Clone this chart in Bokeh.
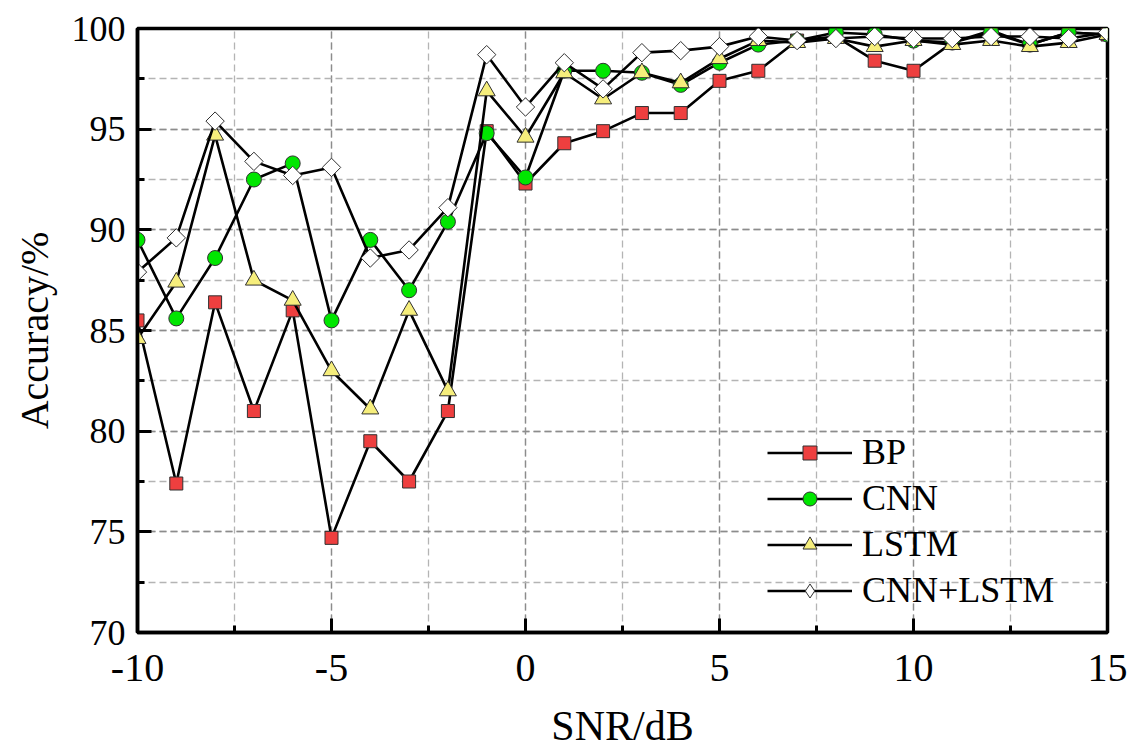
import numpy as np
from bokeh.plotting import figure
from bokeh.models import SingleIntervalTicker, Legend, LegendItem, CustomJSTickFormatter
from bokeh.embed import file_html
from bokeh.resources import INLINE

snr = list(range(-10, 16))
bp = [85.5, 77.4, 86.4, 81.0, 86.0, 74.7, 79.5, 77.5, 81.0, 94.9, 92.3, 94.3, 94.9,
      95.8, 95.8, 97.4, 97.9, 99.4, 99.6, 98.4, 97.9, 99.3, 99.9, 99.2, 99.8, 99.7]
cnn = [89.5, 85.6, 88.6, 92.5, 93.3, 85.5, 89.5, 87.0, 90.4, 94.8, 92.6, 97.9, 97.9,
       97.8, 97.2, 98.3, 99.2, 99.4, 99.8, 99.7, 99.4, 99.3, 99.8, 99.2, 99.8, 99.7]
lstm = [84.6, 87.4, 94.7, 87.5, 86.5, 83.0, 81.1, 86.0, 82.0, 96.9, 94.6, 97.8, 96.5,
        97.8, 97.3, 98.5, 99.4, 99.3, 99.5, 99.1, 99.4, 99.2, 99.4, 99.1, 99.3, 99.7]
cnn_lstm = [87.9, 89.6, 95.4, 93.4, 92.7, 93.1, 88.6, 89.0, 91.1, 98.7, 96.1, 98.3, 97.0,
            98.8, 98.9, 99.1, 99.6, 99.4, 99.5, 99.6, 99.5, 99.5, 99.6, 99.6, 99.5, 99.8]
names = ["BP", "CNN", "LSTM", "CNN+LSTM"]

FONT = "Liberation Serif"

p = figure(width=1128, height=751, x_range=(-10, 15), y_range=(70, 100),
           output_backend="svg", toolbar_location=None,
           min_border_left=137, min_border_right=21, min_border_top=28, min_border_bottom=118)
p.background_fill_color = "white"
p.border_fill_color = "white"
p.outline_line_color = "black"
p.outline_line_width = 3.5

p.xaxis.ticker = SingleIntervalTicker(interval=5, num_minor_ticks=2)
p.yaxis.ticker = SingleIntervalTicker(interval=5, num_minor_ticks=2)
p.xaxis.formatter = CustomJSTickFormatter(code="return tick.toString();")
p.yaxis.formatter = CustomJSTickFormatter(code="return tick.toString();")

for ax in (p.xaxis[0], p.yaxis[0]):
    ax.axis_line_width = 3.5
    ax.axis_line_color = "black"
    ax.major_tick_in = 14
    ax.major_tick_out = 0
    ax.minor_tick_in = 7
    ax.minor_tick_out = 0
    ax.major_tick_line_width = 3
    ax.minor_tick_line_width = 3
    ax.major_label_text_font = FONT
    ax.major_label_text_color = "black"
    ax.axis_label_text_font = FONT
    ax.axis_label_text_font_style = "normal"
    ax.axis_label_text_color = "black"

p.xaxis.major_label_text_font_size = "40px"
p.yaxis.major_label_text_font_size = "36px"
p.xaxis.axis_label = "SNR/dB"
p.yaxis.axis_label = "Accuracy/%"
p.xaxis.axis_label_text_font_size = "42px"
p.yaxis.axis_label_text_font_size = "40px"
p.xaxis.major_label_standoff = 22
p.yaxis.major_label_standoff = 12
p.xaxis.axis_label_standoff = 19
p.yaxis.axis_label_standoff = 12

for g in (p.xgrid[0], p.ygrid[0]):
    g.grid_line_color = "#8c8c8c"
    g.grid_line_dash = "7 4"
    g.grid_line_width = 1.3
    g.minor_grid_line_color = "#b4b4b4"
    g.minor_grid_line_dash = "7 4"
    g.minor_grid_line_width = 1.3

series = [
    (bp, "square", "#EE3F3F", 13, 0.0, "square"),
    (cnn, "circle", "#00E600", 15, 0.0, "circle"),
    (lstm, "triangle", "#F6EE7C", 17, 0.0, "triangle"),
    (cnn_lstm, "square", "#FFFFFF", 13, np.pi / 4, "diamond"),
]

items = []
for (vals, marker, color, size, ang, leg_marker), name in zip(series, names):
    l = p.line(snr, vals, line_color="black", line_width=2.6)
    if leg_marker == marker:
        s = p.scatter(snr, vals, marker=marker, size=size, angle=ang,
                      fill_color=color, line_color="#303030", line_width=1)
        items.append(LegendItem(label=name, renderers=[l, s]))
    else:
        # diamond drawn underneath (used for the legend key), rotated square on top
        d = p.scatter(snr, vals, marker=leg_marker, size=size,
                      fill_color=color, line_color="#303030", line_width=1)
        p.scatter(snr, vals, marker=marker, size=size, angle=ang,
                  fill_color=color, line_color="#303030", line_width=1)
        items.append(LegendItem(label=name, renderers=[l, d]))

legend = Legend(items=items, location=(630, 21))
legend.background_fill_alpha = 0
legend.border_line_alpha = 0
legend.padding = 0
legend.margin = 0
legend.spacing = 4
legend.glyph_width = 85
legend.glyph_height = 35
legend.label_height = 40
legend.label_standoff = 10
legend.label_text_font = FONT
legend.label_text_font_size = "36px"
legend.label_text_color = "black"
p.add_layout(legend, "center")

open("out.html", "w").write(file_html(p, INLINE))
